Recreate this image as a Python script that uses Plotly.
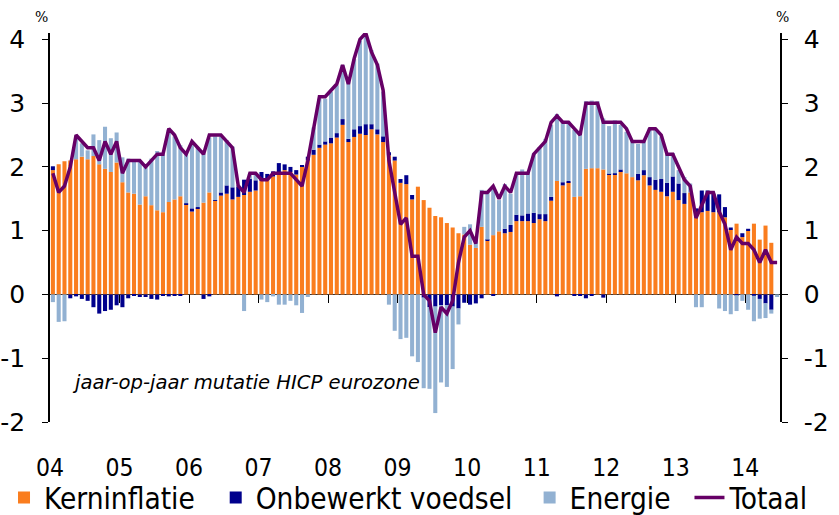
import plotly.graph_objects as go

# Monthly data Jan 2004 - Jun 2014 (year-on-year, %)
years = ["04", "05", "06", "07", "08", "09", "10", "11", "12", "13", "14"]

kerninflatie = [
    1.95, 2.04, 2.09, 2.10, 2.12, 2.16, 2.12, 2.17, 2.04, 1.97, 1.92, 2.07,
    1.76, 1.60, 1.58, 1.41, 1.54, 1.40, 1.32, 1.29, 1.45, 1.49, 1.54, 1.41,
    1.30, 1.35, 1.44, 1.60, 1.47, 1.55, 1.58, 1.49, 1.53, 1.56, 1.61, 1.63,
    1.78, 1.82, 1.85, 1.92, 1.95, 1.92, 1.88, 2.00, 2.10, 2.19, 2.30, 2.35,
    2.37, 2.46, 2.66, 2.39, 2.47, 2.52, 2.50, 2.59, 2.51, 2.39, 2.18, 2.10,
    1.75, 1.73, 1.49, 1.69, 1.48, 1.36, 1.23, 1.21, 1.12, 1.05, 0.96, 0.94,
    0.78, 0.73, 1.06, 0.84, 0.93, 0.99, 0.96, 0.98, 1.15, 1.15, 1.15, 1.12,
    1.18, 1.15, 1.47, 1.78, 1.71, 1.76, 1.53, 1.54, 1.97, 1.98, 1.98, 1.96,
    1.88, 1.88, 1.93, 1.90, 1.84, 1.79, 1.87, 1.71, 1.64, 1.61, 1.54, 1.61,
    1.48, 1.42, 1.60, 1.25, 1.29, 1.31, 1.29, 1.29, 1.21, 1.02, 1.11, 0.90,
    1.00, 1.11, 0.86, 1.08, 0.81, None,
]

onbewerkt_voedsel = [
    0.06, 0.00, 0.00, -0.06, -0.03, -0.07, -0.10, -0.20, -0.30, -0.26, -0.24, -0.17,
    -0.20, -0.06, -0.01, -0.04, -0.04, -0.07, -0.08, -0.01, -0.03, -0.02, -0.01, 0.02,
    0.05, 0.02, -0.07, -0.03, 0.01, 0.05, 0.13, 0.19, 0.16, 0.24, 0.20, 0.16,
    0.14, 0.07, 0.08, 0.14, 0.09, 0.08, 0.07, 0.03, 0.06, 0.08, 0.05, 0.05,
    0.09, 0.07, 0.09, 0.05, 0.12, 0.12, 0.17, 0.08, 0.08, 0.09, 0.05, 0.06,
    0.06, 0.14, 0.07, 0.00, -0.05, -0.20, -0.19, -0.17, -0.17, -0.19, -0.22, -0.13,
    -0.16, -0.14, -0.06, 0.02, -0.01, 0.00, 0.07, 0.11, 0.10, 0.09, 0.12, 0.16,
    0.08, 0.11, 0.06, -0.03, 0.05, 0.02, -0.01, -0.01, -0.06, -0.01, 0.00, -0.05,
    0.01, 0.02, 0.03, 0.00, 0.00, 0.10, 0.08, 0.13, 0.16, 0.20, 0.21, 0.24,
    0.26, 0.17, 0.00, 0.10, 0.34, 0.32, 0.29, 0.28, 0.16, 0.03, -0.01, 0.06,
    0.03, -0.02, -0.07, -0.14, -0.24, None,
]

energie = [
    -0.12, -0.43, -0.42, 0.00, 0.34, 0.21, 0.14, 0.34, 0.38, 0.66, 0.53, 0.47,
    0.39, 0.53, 0.52, 0.69, 0.46, 0.73, 0.93, 0.91, 1.13, 0.99, 0.80, 0.79,
    1.02, 0.94, 0.77, 0.86, 1.00, 0.88, 0.71, 0.64, 0.02, -0.26, 0.08, 0.10,
    -0.08, -0.12, -0.03, -0.16, -0.16, -0.10, -0.17, -0.29, -0.04, 0.35, 0.72, 0.67,
    0.72, 0.75, 0.85, 0.90, 1.10, 1.34, 1.40, 1.16, 1.03, 0.70, -0.16, -0.57,
    -0.70, -0.68, -0.97, -1.06, -1.42, -1.28, -1.67, -1.21, -1.28, -0.98, -0.25, 0.12,
    0.32, 0.17, 0.58, 0.75, 0.76, 0.49, 0.70, 0.49, 0.63, 0.72, 0.65, 0.93,
    1.05, 1.18, 1.13, 1.05, 0.96, 0.93, 1.05, 1.00, 1.06, 1.06, 1.05, 0.80,
    0.75, 0.83, 0.70, 0.65, 0.58, 0.47, 0.47, 0.77, 0.80, 0.67, 0.46, 0.37,
    0.21, 0.25, 0.14, -0.20, -0.20, 0.00, 0.00, -0.22, -0.26, -0.31, -0.25, -0.10,
    -0.24, -0.40, -0.31, -0.23, -0.06, -0.04,
]

totaal = [
    1.9, 1.6, 1.7, 2.0, 2.5, 2.4, 2.3, 2.3, 2.1, 2.4, 2.2, 2.4,
    1.9, 2.1, 2.1, 2.1, 2.0, 2.1, 2.2, 2.2, 2.6, 2.5, 2.3, 2.2,
    2.4, 2.3, 2.2, 2.5, 2.5, 2.5, 2.4, 2.3, 1.7, 1.6, 1.9, 1.9,
    1.8, 1.8, 1.9, 1.9, 1.9, 1.9, 1.8, 1.7, 2.1, 2.6, 3.1, 3.1,
    3.2, 3.3, 3.6, 3.3, 3.7, 4.0, 4.1, 3.8, 3.6, 3.2, 2.1, 1.6,
    1.1, 1.2, 0.6, 0.6, 0.0, -0.1, -0.6, -0.2, -0.3, -0.1, 0.5, 0.9,
    1.0, 0.8, 1.6, 1.6, 1.7, 1.5, 1.7, 1.6, 1.9, 1.9, 1.9, 2.2,
    2.3, 2.4, 2.7, 2.8, 2.7, 2.7, 2.6, 2.5, 3.0, 3.0, 3.0, 2.7,
    2.7, 2.7, 2.7, 2.6, 2.4, 2.4, 2.4, 2.6, 2.6, 2.5, 2.2, 2.2,
    2.0, 1.8, 1.7, 1.2, 1.4, 1.6, 1.6, 1.3, 1.1, 0.7, 0.9, 0.8,
    0.8, 0.7, 0.5, 0.7, 0.5, 0.5,
]

ytick_vals = [-2, -1, 0, 1, 2, 3, 4]
ytick_text = ["-2", "-1", "0", "1", "2", "3", "4"]

n = len(totaal)
x = list(range(n))
YMIN, YMAX = -2.0, 4.1

ORANGE = "#FA7D1E"
NAVY = "#00008C"
LIGHTBLUE = "#92B1D2"
PURPLE = "#660066"

fig = go.Figure()
fig.add_trace(go.Bar(x=x, y=kerninflatie, name="Kerninflatie", marker_color=ORANGE,
                     marker_line_width=0, legend="legend"))
fig.add_trace(go.Bar(x=x, y=onbewerkt_voedsel, name="Onbewerkt voedsel", marker_color=NAVY,
                     marker_line_width=0, legend="legend2"))
fig.add_trace(go.Bar(x=x, y=energie, name="Energie", marker_color=LIGHTBLUE,
                     marker_line_width=0, legend="legend3"))
fig.add_trace(go.Scatter(x=x, y=totaal, name="Totaal", mode="lines",
                         line=dict(color=PURPLE, width=3.5), xaxis="x2", yaxis="y2",
                         legend="legend4"))

year_starts = [12 * i - 0.5 for i in range(len(years))]
boundaries = [12 * i - 0.5 for i in range(1, len(years))]

tickfont = dict(family="DejaVu Sans", size=25, color="black")
legfont = dict(family="DejaVu Sans Condensed", size=29.5, color="black")


def leg(xpos):
    return dict(orientation="h", x=xpos, xanchor="left", y=-0.195, yanchor="middle",
                bgcolor="rgba(0,0,0,0)", font=legfont, itemwidth=30)


fig.update_layout(
    width=839, height=515,
    margin=dict(l=50, r=59, t=33, b=93, autoexpand=False),
    paper_bgcolor="white", plot_bgcolor="white",
    barmode="relative", bargap=0.3,
    showlegend=True,
    legend=leg(-0.063),
    legend2=leg(0.227),
    legend3=leg(0.657),
    legend4=leg(0.876),
    xaxis=dict(range=[-0.5, n - 0.5], tickvals=year_starts, ticktext=years,
               ticks="outside", ticklen=24, tickcolor="rgba(0,0,0,0)",
               tickfont=dict(family="DejaVu Sans Condensed", size=24.5, color="black"),
               showgrid=False, zeroline=False, showline=False, automargin=False),
    xaxis2=dict(range=[-0.5, n - 0.5], overlaying="x", anchor="free",
                position=(0 - YMIN) / (YMAX - YMIN),
                tickvals=boundaries, ticks="outside", ticklen=8, tickwidth=1,
                tickcolor="black", showticklabels=False, showgrid=False,
                zeroline=False, showline=False, automargin=False),
    yaxis=dict(range=[YMIN, YMAX], tickvals=ytick_vals, ticktext=ytick_text,
               ticks="outside", ticklen=6, tickcolor="black", tickwidth=1,
               ticklabelstandoff=12, automargin=False,
               showline=True, linecolor="black", linewidth=1.5,
               showgrid=False, zeroline=True, zerolinecolor="#333333", zerolinewidth=1,
               tickfont=tickfont),
    yaxis2=dict(range=[YMIN, YMAX], overlaying="y", side="right",
                tickvals=ytick_vals, ticktext=ytick_text,
                ticks="outside", ticklen=6, tickcolor="black", tickwidth=1,
                ticklabelstandoff=11, automargin=False,
                showline=True, linecolor="black", linewidth=1.5,
                showgrid=False, zeroline=False, tickfont=tickfont),
    annotations=[
        dict(text="%", xref="paper", yref="paper", x=0.0, y=1.015, xanchor="right",
             yanchor="bottom", showarrow=False,
             font=dict(family="DejaVu Serif", size=14, color="black")),
        dict(text="%", xref="paper", yref="paper", x=1.004, y=1.015, xanchor="center",
             yanchor="bottom", showarrow=False,
             font=dict(family="DejaVu Serif", size=14, color="black")),
        dict(text="<i>jaar-op-jaar mutatie HICP eurozone</i>", xref="x", yref="y",
             x=3.0, y=-1.38, xanchor="left", yanchor="middle", showarrow=False,
             font=dict(family="DejaVu Sans", size=19.6, color="black")),
    ],
)

fig.write_html(
    "out.html",
    config={"displayModeBar": False},
    post_script="document.body.style.margin='0';document.body.style.overflow='hidden';",
)
